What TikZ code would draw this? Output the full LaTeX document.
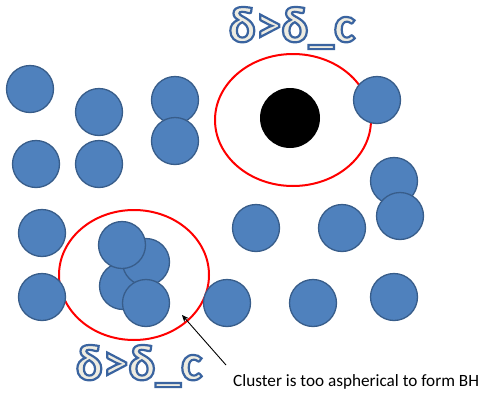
\documentclass[tikz,border=0pt]{standalone}
\usepackage{fontspec}
\setmainfont{Carlito}
\usetikzlibrary{arrows.meta}
\definecolor{ballfill}{HTML}{4F81BD}
\definecolor{balledge}{HTML}{385D8A}
\definecolor{wafill}{HTML}{EEECE1}
\tikzset{
  ball/.style={circle, fill=ballfill, draw=balledge, line width=1.3pt, minimum size=47pt, inner sep=0pt},
  region/.style={draw=red, line width=2pt},
  delta/.style={font=\bfseries\fontsize{51}{51}\selectfont, inner sep=0pt},
}
\newcommand{\deltalabel}{\textcolor{wafill}{\special{pdf:code 2 Tr 2.2 w 0.227 0.392 0.627 RG}δ>δ\_c\special{pdf:code 0 Tr}}}
\begin{document}
\begin{tikzpicture}[x=1pt,y=-1pt]
\useasboundingbox (0,0) rectangle (485,394);
% ellipses
\draw[region] (293,120) ellipse [x radius=78, y radius=66];
\draw[region] (134,275) ellipse [x radius=75, y radius=65];
% black hole
\node[circle, fill=black, minimum size=60pt, inner sep=0pt] (bh) at (290,118) {};
% balls
\node[ball] (b1) at (30,89) {};
\node[ball] (b2) at (99,112) {};
\node[ball] (b3) at (36,164) {};
\node[ball] (b4) at (99,164) {};
\node[ball] (b5) at (175,100) {};
\node[ball] (b6) at (175,141) {};
\node[ball] (b7) at (42,233) {};
\node[ball] (b8) at (42,297) {};
\node[ball] (c1) at (123,286) {};
\node[ball] (c2) at (146,262) {};
\node[ball] (c3) at (122,245) {};
\node[ball] (c4) at (146,303) {};
\node[ball] (b9) at (377,100) {};
\node[ball] (b10) at (394,181) {};
\node[ball] (b11) at (400,216) {};
\node[ball] (b12) at (256,228) {};
\node[ball] (b13) at (342,228) {};
\node[ball] (b14) at (227,303) {};
\node[ball] (b15) at (313,303) {};
\node[ball] (b16) at (394,297) {};
% labels
\node[delta, anchor=base] (dtop) at (292,42) {\deltalabel};
\node[delta, anchor=base] (dbot) at (139,380) {\deltalabel};
\node[anchor=base west, inner sep=0pt, font=\fontsize{17.2}{17.2}\selectfont] (note) at (233,386) {Cluster is too aspherical to form BH};
\coordinate (tail) at (226,365);
\coordinate (tip) at (182,315);
\draw[-{Stealth[length=7pt,width=6pt]}, line width=0.9pt] (tail) -- (tip);
\end{tikzpicture}
\end{document}
